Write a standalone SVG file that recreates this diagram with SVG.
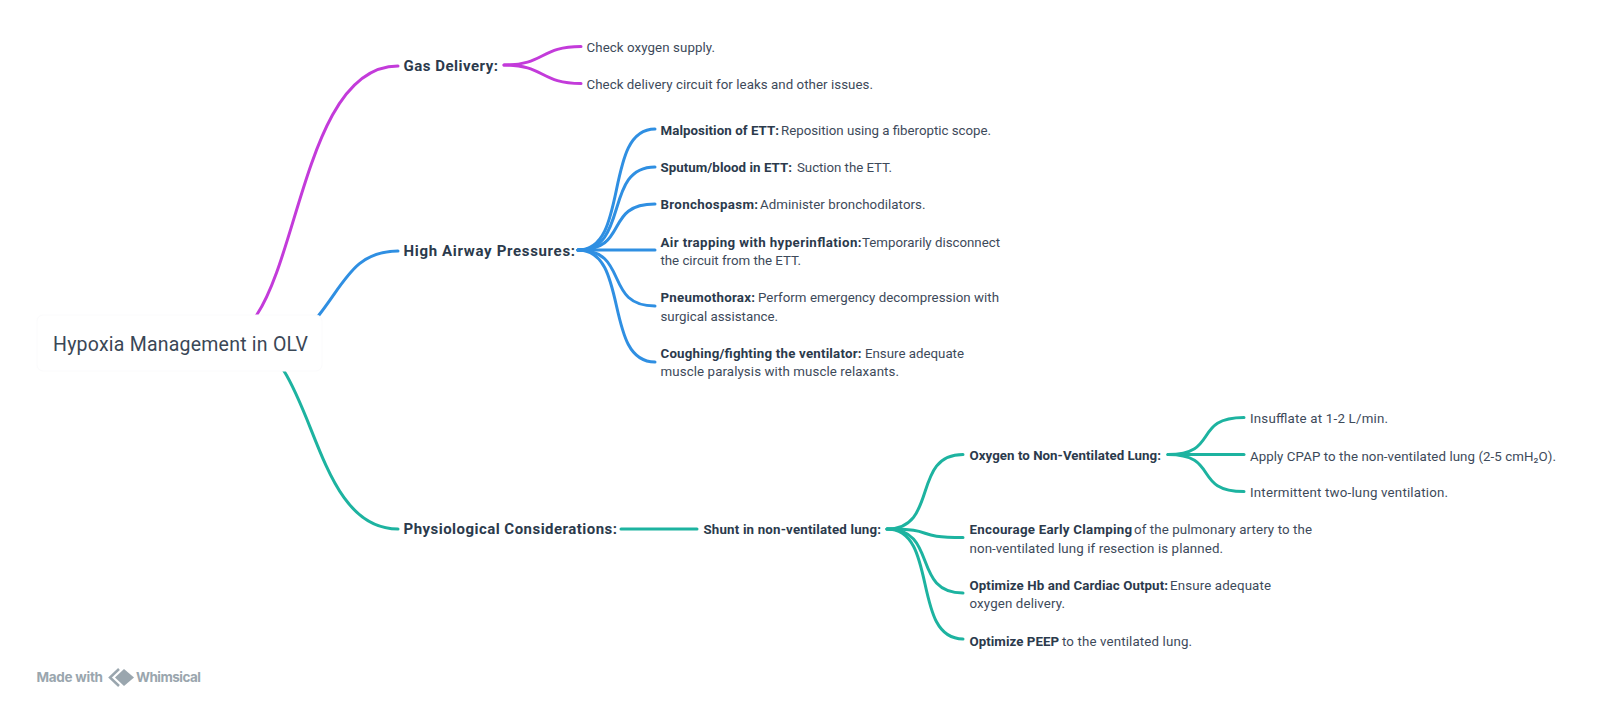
<svg xmlns="http://www.w3.org/2000/svg" width="1600" height="705" viewBox="0 0 1600 705">
<style>
text{font-family:"Roboto","Liberation Sans",sans-serif;font-size:13.3px;fill:#3d4a5a}
text.b{font-weight:700;fill:#2b3a4c}
text.h{font-size:15px;font-weight:700;fill:#2b3a4c}
text.r{font-size:19.5px;fill:#3a4756}
.c path{fill:none;stroke-width:3;stroke-linecap:round}
.p path{stroke:#c33bda}.u path{stroke:#2f8fe2}.t path{stroke:#1db3a0}
text.f{font-family:"Inter","Liberation Sans",sans-serif;font-size:13.5px;font-weight:700;fill:#9aa6ae}
</style>
<rect width="1600" height="705" fill="#fff"/>
<g id="connectors" class="c">
<g class="p">
<path d="M254 319L256.700 315C300 250 310 66 398 66"/>
<path d="M504 65C545 65 540 46.500 581 46.500"/>
<path d="M504 65C545 65 540 83.500 581 83.500"/>
</g>
<g class="u">
<path d="M316 319L319 315C345 282 355 251 398 251"/>
<path d="M578 250C630 250 603 129 655 129"/>
<path d="M578 250C630 250 603 167 655 167"/>
<path d="M578 250C630 250 603 204 655 204"/>
<path d="M578 250H655"/>
<path d="M578 250C630 250 603 306 655 306"/>
<path d="M578 250C630 250 603 362 655 362"/>
</g>
<g class="t">
<path d="M281 366L284 371C318 425 330 529 398 529"/>
<path d="M621 529H697"/>
<path d="M887 529C939 529 911 454.500 963 454.500"/>
<path d="M887 529C939 529 911 537.500 963 537.500"/>
<path d="M887 529C939 529 911 593 963 593"/>
<path d="M887 529C939 529 911 639 963 639"/>
<path d="M1168 454.500C1220 454.500 1192 417.500 1244 417.500"/>
<path d="M1168 454.500H1244"/>
<path d="M1168 454.500C1220 454.500 1192 491.500 1244 491.500"/>
</g>
</g>
<g id="root"><rect x="37" y="315" width="285" height="56" rx="6" fill="#fff" stroke="#fbfbfc"/>
<text class="r" x="53" y="351" textLength="255">Hypoxia Management in OLV</text></g>
<g id="gas"><text class="h" x="403.500" y="71" textLength="94.500">Gas Delivery:</text></g>
<g id="gas1"><text x="586.500" y="52" textLength="128.500">Check oxygen supply.</text></g>
<g id="gas2"><text x="586.500" y="89" textLength="286.500">Check delivery circuit for leaks and other issues.</text></g>
<g id="high"><text class="h" x="403.500" y="256" textLength="171.500">High Airway Pressures:</text></g>
<g id="h1"><text class="b" x="660.500" y="135" textLength="118.500">Malposition of ETT:</text><text x="781" y="135" textLength="210">Reposition using a fiberoptic scope.</text></g>
<g id="h2"><text class="b" x="660.500" y="172" textLength="131.500">Sputum/blood in ETT:</text><text x="797" y="172" textLength="95">Suction the ETT.</text></g>
<g id="h3"><text class="b" x="660.500" y="209" textLength="97.500">Bronchospasm:</text><text x="760" y="209" textLength="165.500">Administer bronchodilators.</text></g>
<g id="h4"><text class="b" x="660.500" y="247" textLength="201">Air trapping with hyperinflation:</text><text x="862" y="247" textLength="138">Temporarily disconnect</text><text x="660.500" y="265" textLength="140.500">the circuit from the ETT.</text></g>
<g id="h5"><text class="b" x="660.500" y="302" textLength="94.500">Pneumothorax:</text><text x="758" y="302" textLength="241">Perform emergency decompression with</text><text x="660.500" y="321" textLength="117.500">surgical assistance.</text></g>
<g id="h6"><text class="b" x="660.500" y="358" textLength="201">Coughing/fighting the ventilator:</text><text x="865" y="358" textLength="99">Ensure adequate</text><text x="660.500" y="376" textLength="238.500">muscle paralysis with muscle relaxants.</text></g>
<g id="phys"><text class="h" x="403.500" y="534" textLength="213.500">Physiological Considerations:</text></g>
<g id="shunt"><text class="b" x="703.500" y="534" textLength="177.500">Shunt in non-ventilated lung:</text></g>
<g id="oxy"><text class="b" x="969.500" y="460" textLength="191.500">Oxygen to Non-Ventilated Lung:</text></g>
<g id="o1"><text x="1250" y="423" textLength="138">Insufflate at 1-2 L/min.</text></g>
<g id="o2"><text x="1250" y="460.500" textLength="306">Apply CPAP to the non-ventilated lung (2-5 cmH₂O).</text></g>
<g id="o3"><text x="1250" y="497" textLength="198">Intermittent two-lung ventilation.</text></g>
<g id="e1"><text class="b" x="969.500" y="534" textLength="162.500">Encourage Early Clamping</text><text x="1134" y="534" textLength="178">of the pulmonary artery to the</text><text x="969.500" y="553" textLength="253.500">non-ventilated lung if resection is planned.</text></g>
<g id="e2"><text class="b" x="969.500" y="590" textLength="198.500">Optimize Hb and Cardiac Output:</text><text x="1170" y="590" textLength="101">Ensure adequate</text><text x="969.500" y="608" textLength="95.500">oxygen delivery.</text></g>
<g id="e3"><text class="b" x="969.500" y="645.500" textLength="89.500">Optimize PEEP</text><text x="1062" y="645.500" textLength="130">to the ventilated lung.</text></g>
<g id="badge"><text class="f" x="36.500" y="682" textLength="66.500">Made with</text>
<path d="M119 669L110 677.500 119 686" fill="none" stroke="#9aa6ae" stroke-width="2.500"/><path d="M124 669L134 677.500 124 686 115 677.500Z" fill="#9aa6ae"/>
<text class="f" x="136" y="682" textLength="65">Whimsical</text></g>
</svg>
